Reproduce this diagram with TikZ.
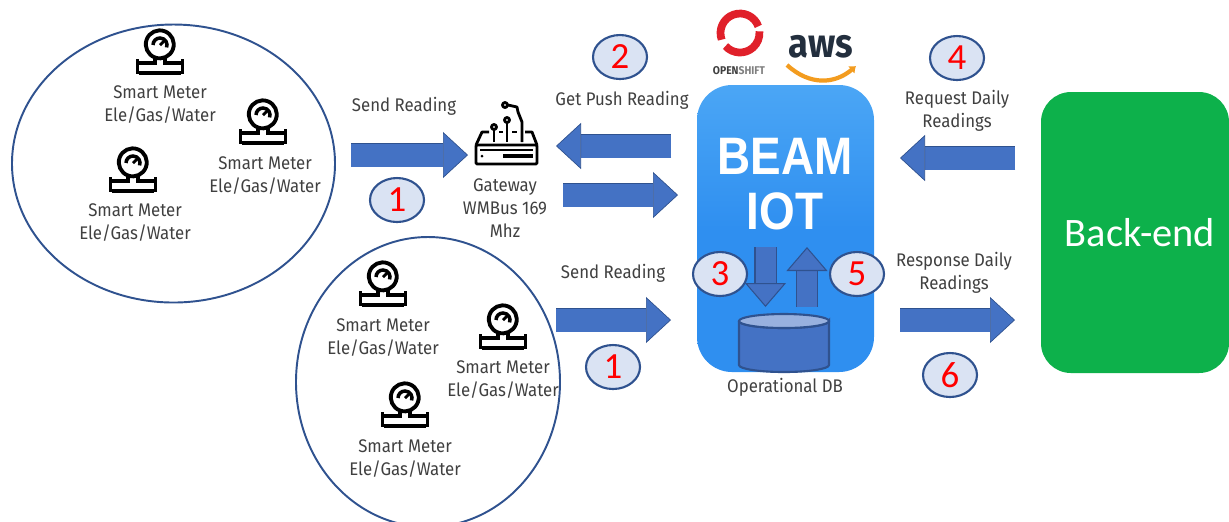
\documentclass[tikz,border=0pt]{standalone}
\usepackage{fontspec}
\usepackage{tikz}
\usetikzlibrary{arrows.meta,shapes.geometric}
\setmainfont[FakeStretch=.92]{Fira Sans}
\newfontfamily\numfont{Carlito}
\newfontfamily\boldfont[FakeStretch=.87]{Liberation Sans}
\newfontfamily\awsfont[FakeStretch=.9]{Fira Sans}
\definecolor{arrowblue}{HTML}{4472C4}
\definecolor{edgeblue}{HTML}{2F528F}
\definecolor{numfill}{HTML}{DAE3F3}
\definecolor{txtgray}{HTML}{404040}
\definecolor{beamblue}{HTML}{2F8FF0}
\definecolor{beamtop}{HTML}{4BA6F5}
\definecolor{backgreen}{HTML}{0DB14B}
\definecolor{awsdark}{HTML}{232F3E}
\definecolor{awsorange}{HTML}{F39C1F}
\definecolor{osred}{HTML}{E0202A}

\begin{document}
\begin{tikzpicture}[>=latex]
      \tikzstyle{group}=[shape=ellipse,draw=edgeblue,line width=.55pt,inner sep=0pt];
      \tikzstyle{lbl}=[text=txtgray,font=\fontsize{5.2}{6.55}\selectfont,align=center,inner sep=0pt];
      \tikzstyle{num}=[shape=ellipse,draw=edgeblue,fill=numfill,line width=.6pt,minimum width=.54cm,minimum height=.44cm,inner sep=0pt,text=red,font=\numfont\fontsize{10.5}{10.5}\selectfont];
      \tikzstyle{blockarrow}=[draw=edgeblue,line width=.2pt,double=arrowblue,double distance=.23cm,-{Triangle[length=.25cm,width=.46cm,fill=arrowblue,color=edgeblue,line width=.2pt]}];
      \tikzstyle{smallarrow}=[draw=edgeblue,line width=.3pt,double=arrowblue,double distance=.2cm,-{Triangle[length=.24cm,width=.41cm,fill=arrowblue,color=edgeblue,line width=.3pt]}];
      \tikzset{meter/.pic={
        \draw[line width=1.1pt] (-.05,-.125) arc (-110:250:.14);
        \draw[line width=1pt] (-.07,0) arc (180:-20:.07);
        \draw[line width=.8pt] (0,0) -- (.045,.045);
        \draw[line width=1.1pt] (-.05,-.13) -- (-.05,-.18) -- (-.21,-.18);
        \draw[line width=1.1pt] (.05,-.13) -- (.05,-.18) -- (.21,-.18);
        \draw[line width=1.1pt] (-.21,-.28) -- (.21,-.28);
        \draw[line width=1.1pt] (-.225,-.14) -- (-.225,-.29);
        \draw[line width=1.1pt] (.225,-.14) -- (.225,-.29);
      }};
      \useasboundingbox (0,0) rectangle (12.29,-5.21);

      % main boxes
      \node[draw=none,rounded corners=.35cm,top color=beamtop,bottom color=beamblue,middle color=beamblue,minimum width=1.77cm,minimum height=2.87cm](beam) at (7.855,-2.285) {};
      \node[draw=none,rounded corners=.3cm,fill=backgreen,minimum width=1.88cm,minimum height=2.81cm,text=white,font=\numfont\fontsize{11.5}{11.5}\selectfont](backend) at (11.35,-2.325) {\hspace{.1cm}Back-end};
      \node[text=white,font=\boldfont\bfseries\fontsize{15}{15}\selectfont](beamtxt) at (7.85,-1.56) {BEAM};
      \node[text=white,font=\boldfont\bfseries\fontsize{15}{15}\selectfont](iottxt) at (7.85,-2.11) {IOT};

      % meter groups
      \node[group,minimum width=3.23cm,minimum height=2.78cm](groupA) at (1.735,-1.635) {};
      \node[group,minimum width=2.64cm,minimum height=2.9cm](groupB) at (4.28,-3.82) {};

      \path (1.60,-.45) pic {meter};
      \path (2.63,-1.15) pic {meter};
      \path (1.33,-1.63) pic {meter};
      \path (3.83,-2.77) pic {meter};
      \path (5.03,-3.20) pic {meter};
      \path (4.05,-3.98) pic {meter};

      \node[lbl](meterA) at (1.60,-1.045) {Smart Meter\\Ele/Gas/Water};
      \node[lbl](meterB) at (2.65,-1.755) {Smart Meter\\Ele/Gas/Water};
      \node[lbl](meterC) at (1.35,-2.225) {Smart Meter\\Ele/Gas/Water};
      \node[lbl](meterD) at (3.83,-3.38) {Smart Meter\\Ele/Gas/Water};
      \node[lbl](meterE) at (5.03,-3.80) {Smart Meter\\Ele/Gas/Water};
      \node[lbl](meterF) at (4.05,-4.585) {Smart Meter\\Ele/Gas/Water};

      % gateway icon
      \begin{scope}[line width=.8pt,line join=round]
        \draw[rounded corners=.3pt] (4.76,-1.45) rectangle (5.37,-1.64);
        \draw (4.76,-1.45) -- (4.82,-1.32) -- (4.89,-1.32);
        \draw (4.99,-1.32) -- (5.03,-1.32);
        \draw (5.12,-1.32) -- (5.17,-1.32);
        \draw (5.25,-1.32) -- (5.32,-1.32) -- (5.37,-1.45);
        \draw (4.94,-1.42) -- (4.94,-1.30);
        \draw (4.94,-1.27) circle (.025);
        \draw (5.07,-1.42) -- (5.07,-1.23);
        \draw (5.07,-1.20) circle (.025);
        \draw (5.22,-1.42) -- (5.22,-1.22) -- (5.18,-1.12) -- (5.17,-1.07) -- (5.08,-1.05);
        \draw (5.05,-1.05) circle (.025);
        \draw[line width=.5pt] (4.80,-1.50) -- (5.33,-1.50);
        \draw[line width=1.2pt] (5.03,-1.56) -- (5.33,-1.56);
        \fill (4.82,-1.56) circle (.015);
      \end{scope}
      \node[lbl](gateway) at (5.05,-2.085) {Gateway\\WMBus 169\\Mhz};

      % logos
      \draw[osred,line width=2.2pt] (7.40,-.33)+(20:.195) arc (20:200:.195);
      \draw[osred,line width=2.2pt] (7.40,-.33)+(222:.195) arc (222:365:.195);
      \node[inner sep=0pt,font=\fontsize{3.2}{3.5}\selectfont\bfseries](openshift) at (7.39,-.71) {\textcolor{txtgray}{OPEN}\textcolor{gray}{SHIFT}};
      \node[inner sep=0pt,text=awsdark,font=\awsfont\bfseries\fontsize{11.5}{11.5}\selectfont](aws) at (8.21,-.47) {aws};
      \coordinate (smileA) at (7.87,-.65);
      \coordinate (smileB) at (8.56,-.66);
      \draw[awsorange,line width=1.2pt,-{Latex[length=.06cm,width=.1cm]}] (smileA) .. controls (8.1,-.86) and (8.35,-.84) .. (smileB);

      % arrows
      \coordinate (a1) at (3.51,-1.55);
      \coordinate (a2) at (4.68,-1.55);
      \coordinate (b1) at (6.71,-1.46);
      \coordinate (b2) at (5.56,-1.46);
      \coordinate (c1) at (5.63,-1.95);
      \coordinate (c2) at (6.78,-1.95);
      \coordinate (d1) at (5.56,-3.20);
      \coordinate (d2) at (6.71,-3.20);
      \coordinate (e1) at (10.15,-1.58);
      \coordinate (e2) at (9.00,-1.58);
      \coordinate (f1) at (9.00,-3.20);
      \coordinate (f2) at (10.15,-3.20);
      \coordinate (g1) at (7.655,-2.47);
      \coordinate (g2) at (7.655,-3.07);
      \coordinate (h1) at (8.07,-3.07);
      \coordinate (h2) at (8.07,-2.47);
      \path (a1) edge[blockarrow] (a2);
      \path (b1) edge[blockarrow] (b2);
      \path (c1) edge[blockarrow] (c2);
      \path (d1) edge[blockarrow] (d2);
      \path (e1) edge[blockarrow] (e2);
      \path (f1) edge[blockarrow] (f2);
      \path (g1) edge[smallarrow] (g2);
      \path (h1) edge[smallarrow] (h2);

      % database
      \draw[edgeblue,line width=.6pt,fill=arrowblue] (7.39,-3.21) -- (7.39,-3.65) arc (180:360:.45 and .07) -- (8.29,-3.21) arc (0:-180:.45 and .07);
      \draw[edgeblue,line width=.6pt,fill=arrowblue!55!white] (7.84,-3.21) ellipse (.45 and .07);
      \node[lbl](dblbl) at (7.85,-3.87) {Operational DB};

      % labels
      \node[lbl](send1) at (4.04,-1.06) {Send Reading};
      \node[lbl](send2) at (6.13,-2.73) {Send Reading};
      \node[lbl](push) at (6.22,-1.00) {Get Push Reading};
      \node[lbl](request) at (9.57,-1.105) {Request Daily\\Readings};
      \node[lbl](response) at (9.54,-2.725) {Response Daily\\Readings};

      % numbers
      \node[num](n1) at (3.97,-2.00) {1};
      \node[num](n2) at (6.20,-.57) {2};
      \node[num](n3) at (7.20,-2.74) {3};
      \node[num](n4) at (9.57,-.58) {4};
      \node[num](n5) at (8.57,-2.74) {5};
      \node[num](n6) at (9.50,-3.75) {6};
      \node[num](n7) at (6.13,-3.67) {1};
\end{tikzpicture}
\end{document}
